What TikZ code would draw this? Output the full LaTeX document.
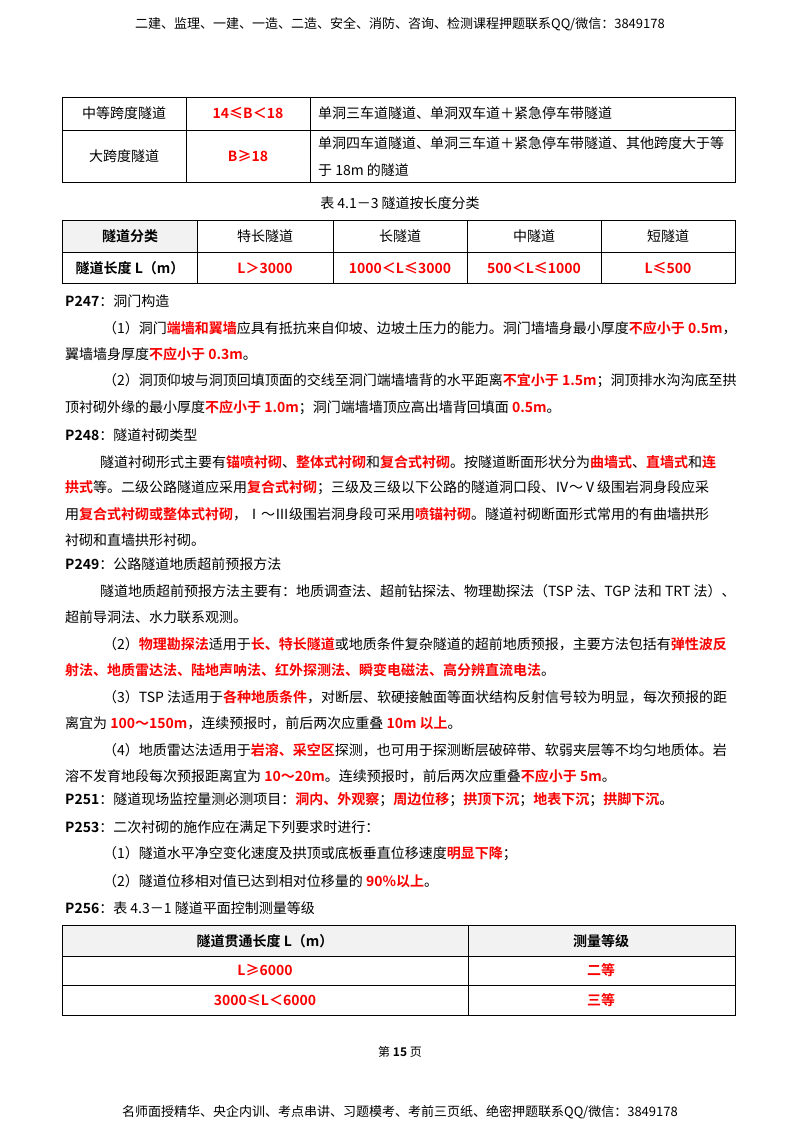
\documentclass[tikz,border=0pt]{standalone}
\usepackage{fontspec}
\setmainfont{Noto Sans CJK SC}[BoldFont={Noto Sans CJK SC Bold}]
\definecolor{rd}{RGB}{250,0,0}
\definecolor{hdr}{RGB}{242,242,242}
\newcommand\R[1]{\textcolor{rd}{\textbf{#1}}}
\newcommand\B[1]{\textbf{#1}}
\begin{document}
\begin{tikzpicture}[x=1pt,y=-1pt,
  every node/.style={inner sep=0pt,font=\fontsize{14}{16}\selectfont},
  ln/.style={anchor=west},
  ct/.style={anchor=center},
  grid/.style={draw=black,line width=0.7pt}]
\useasboundingbox (0,0) rectangle (800,1132);
\fill[white] (0,0) rectangle (800,1132);
\node[ct,font=\fontsize{13}{15}\selectfont] (hd) at (400,24) {二建、监理、一建、一造、二造、安全、消防、咨询、检测课程押题联系QQ/微信：3849178};
% table 1
\draw[grid] (62,97) rectangle (735,182);
\draw[grid] (62,130) -- (735,130);
\draw[grid] (186,97) -- (186,182) (310,97) -- (310,182);
\node[ct] (a1) at (124,113) {中等跨度隧道};
\node[ct] (a2) at (248,113) {\R{14≤B＜18}};
\node[ln] (a3) at (318,113) {单洞三车道隧道、单洞双车道＋紧急停车带隧道};
\node[ct] (b1) at (124,156) {大跨度隧道};
\node[ct] (b2) at (248,156) {\R{B≥18}};
\node[ln] (b3) at (318,143) {单洞四车道隧道、单洞三车道＋紧急停车带隧道、其他跨度大于等};
\node[ln] (b4) at (318,170) {于 18m 的隧道};
\node[ct] (cap) at (400,203) {表 4.1－3 隧道按长度分类};
% table 2
\fill[hdr] (62,220) rectangle (197,252);
\draw[grid] (62,220) rectangle (735,283);
\draw[grid] (62,252) -- (735,252);
\foreach \x in {197,333,467,601} \draw[grid] (\x,220) -- (\x,283);
\node[ct] (t1) at (130,236) {\B{隧道分类}};
\node[ct] (t2) at (265,236) {特长隧道};
\node[ct] (t3) at (400,236) {长隧道};
\node[ct] (t4) at (534,236) {中隧道};
\node[ct] (t5) at (668,236) {短隧道};
\node[ct] (u1) at (130,268) {\B{隧道长度 L（m）}};
\node[ct] (u2) at (265,268) {\R{L＞3000}};
\node[ct] (u3) at (400,268) {\R{1000＜L≤3000}};
\node[ct] (u4) at (534,268) {\R{500＜L≤1000}};
\node[ct] (u5) at (668,268) {\R{L≤500}};
% body
\node[ln] (p1) at (65,301) {\B{P247}：洞门构造};
\node[ln] (p2) at (103,328) {（1）洞门\R{端墙和翼墙}应具有抵抗来自仰坡、边坡土压力的能力。洞门墙墙身最小厚度\R{不应小于 0.5m}，};
\node[ln] (p3) at (65,354) {翼墙墙身厚度\R{不应小于 0.3m}。};
\node[ln] (p4) at (103,381) {（2）洞顶仰坡与洞顶回填顶面的交线至洞门端墙墙背的水平距离\R{不宜小于 1.5m}；洞顶排水沟沟底至拱};
\node[ln] (p5) at (65,408) {顶衬砌外缘的最小厚度\R{不应小于 1.0m}；洞门端墙墙顶应高出墙背回填面 \R{0.5m}。};
\node[ln] (p6) at (65,435) {\B{P248}：隧道衬砌类型};
\node[ln] (p7) at (100,462) {隧道衬砌形式主要有\R{锚喷衬砌}、\R{整体式衬砌}和\R{复合式衬砌}。按隧道断面形状分为\R{曲墙式}、\R{直墙式}和\R{连}};
\node[ln] (p8) at (65,488) {\R{拱式}等。二级公路隧道应采用\R{复合式衬砌}；三级及三级以下公路的隧道洞口段、Ⅳ～Ⅴ级围岩洞身段应采};
\node[ln] (p9) at (65,514) {用\R{复合式衬砌或整体式衬砌}，Ⅰ～Ⅲ级围岩洞身段可采用\R{喷锚衬砌}。隧道衬砌断面形式常用的有曲墙拱形};
\node[ln] (p10) at (65,540) {衬砌和直墙拱形衬砌。};
\node[ln] (q1) at (65,564) {\B{P249}：公路隧道地质超前预报方法};
\node[ln] (q2) at (100,591) {隧道地质超前预报方法主要有：地质调查法、超前钻探法、物理勘探法（TSP 法、TGP 法和 TRT 法）、};
\node[ln] (q3) at (65,617) {超前导洞法、水力联系观测。};
\node[ln] (q4) at (103,644) {（2）\R{物理勘探法}适用于\R{长、特长隧道}或地质条件复杂隧道的超前地质预报，主要方法包括有\R{弹性波反}};
\node[ln] (q5) at (65,670) {\R{射法、地质雷达法、陆地声呐法、红外探测法、瞬变电磁法、高分辨直流电法}。};
\node[ln] (q6) at (103,697) {（3）TSP 法适用于\R{各种地质条件}，对断层、软硬接触面等面状结构反射信号较为明显，每次预报的距};
\node[ln] (q7) at (65,723) {离宜为 \R{100～150m}，连续预报时，前后两次应重叠 \R{10m 以上}。};
\node[ln] (q8) at (103,750) {（4）地质雷达法适用于\R{岩溶、采空区}探测，也可用于探测断层破碎带、软弱夹层等不均匀地质体。岩};
\node[ln] (q9) at (65,776) {溶不发育地段每次预报距离宜为 \R{10～20m}。连续预报时，前后两次应重叠\R{不应小于 5m}。};
\node[ln] (r1) at (65,800) {\B{P251}：隧道现场监控量测必测项目：\R{洞内、外观察}；\R{周边位移}；\R{拱顶下沉}；\R{地表下沉}；\R{拱脚下沉}。};
\node[ln] (r2) at (65,827) {\B{P253}：二次衬砌的施作应在满足下列要求时进行：};
\node[ln] (r3) at (103,854) {（1）隧道水平净空变化速度及拱顶或底板垂直位移速度\R{明显下降}；};
\node[ln] (r4) at (103,881) {（2）隧道位移相对值已达到相对位移量的 \R{90\%以上}。};
\node[ln] (r5) at (65,908) {\B{P256}：表 4.3－1 隧道平面控制测量等级};
% table 3
\fill[hdr] (62,925) rectangle (735,956);
\draw[grid] (62,925) rectangle (735,1015);
\draw[grid] (62,956) -- (735,956) (62,985) -- (735,985);
\draw[grid] (468,925) -- (468,1015);
\node[ct] (v1) at (265,941) {\B{隧道贯通长度 L（m）}};
\node[ct] (v2) at (601,941) {\B{测量等级}};
\node[ct] (w1) at (265,970) {\R{L≥6000}};
\node[ct] (w2) at (601,970) {\R{二等}};
\node[ct] (x1) at (265,1000) {\R{3000≤L＜6000}};
\node[ct] (x2) at (601,1000) {\R{三等}};
\node[ct,font=\fontsize{12}{14}\selectfont] (pg) at (400,1052) {第 \B{15} 页};
\node[ct,font=\fontsize{13}{15}\selectfont] (ft) at (400,1112) {名师面授精华、央企内训、考点串讲、习题模考、考前三页纸、绝密押题联系QQ/微信：3849178};
\end{tikzpicture}
\end{document}
